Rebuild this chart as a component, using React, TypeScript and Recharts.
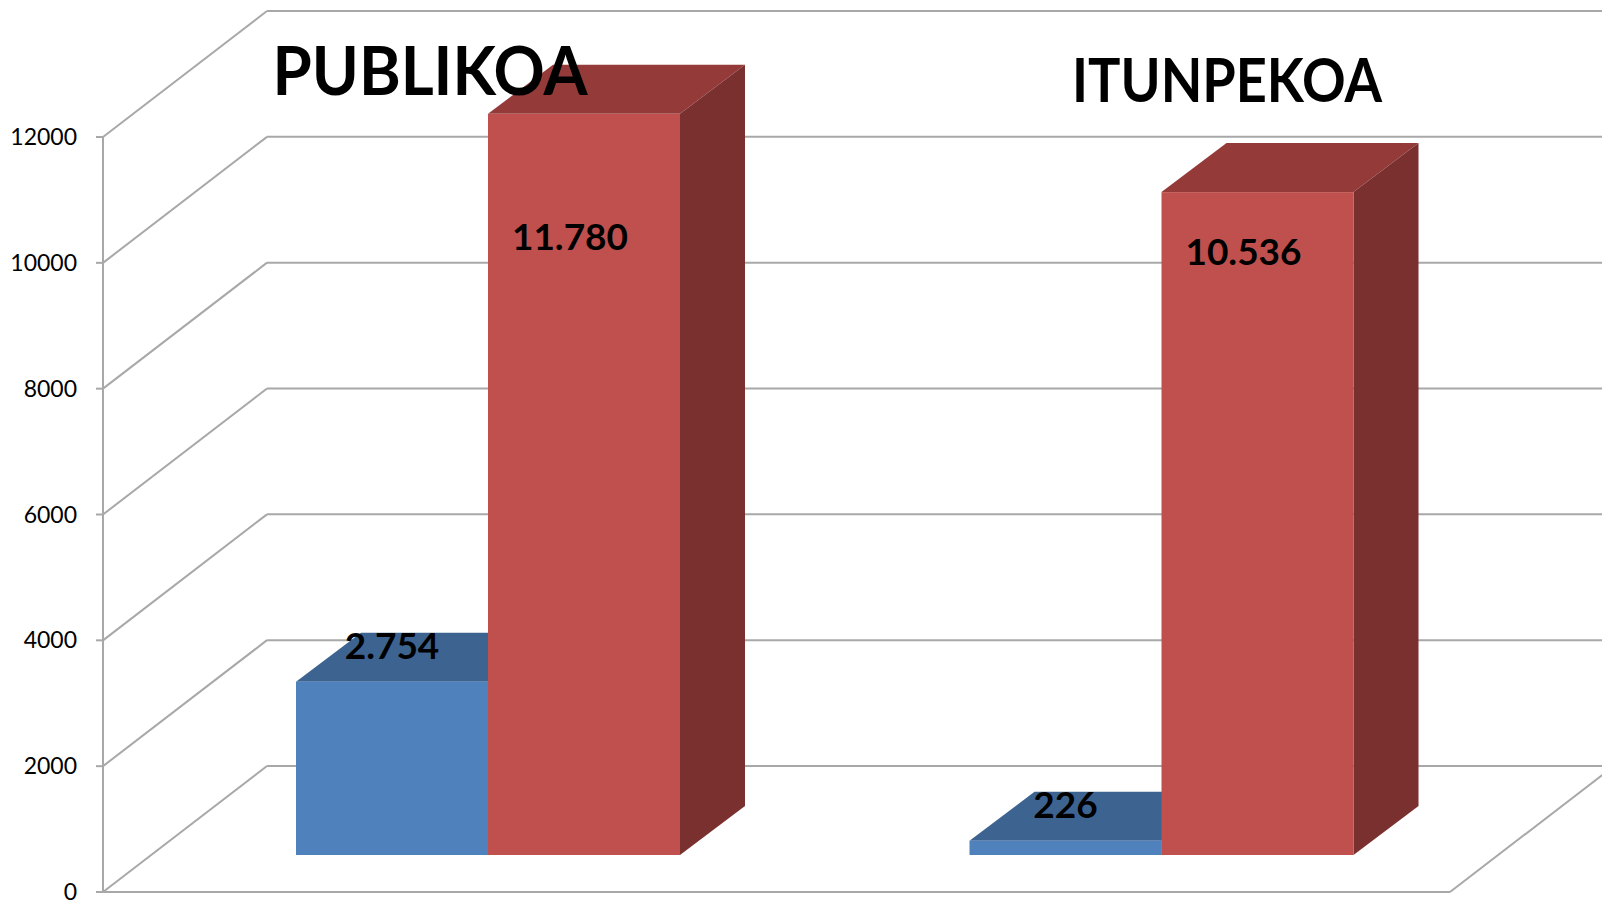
import React from 'react';
import { BarChart, Bar, XAxis, YAxis, CartesianGrid } from 'recharts';

// ---- data ----
const categories = ['PUBLIKOA', 'ITUNPEKOA'];
const blueValues = [2754, 226];
const redValues = [11780, 10536];
const yTicks = [0, 2000, 4000, 6000, 8000, 10000, 12000];

// ---- layout / style constants ----
const W = 1602;
const H = 903;
const MARGIN = { top: 137, right: 152, bottom: 11, left: 8 };
const PLOT_BOTTOM = H - MARGIN.bottom;
const DEPTH_DX = 164;
const DEPTH_DY = 126;
const BAR_OFF_DX = 48;
const BAR_OFF_DY = 37;
const BAR_DEPTH_DX = 65;
const BAR_DEPTH_DY = 49;
const GRID = '#a8a8a8';
const FONT = 'Lato, "Open Sans", sans-serif';
const BLUE = { front: '#4f81bd', top: '#3d6491', side: '#365d8a' };
const RED = { front: '#c0504d', top: '#943b3a', side: '#7b3030' };
const RED_LABEL_DROP = [136, 73];
const LABEL_SIZE = 37;
const TITLES = [
  { cx: 430, baseline: 95, size: 67, len: 315 },
  { cx: 1227, baseline: 102, size: 61, len: 310 },
];

const data = categories.map((c, i) => ({ name: c, blue: blueValues[i], red: redValues[i] }));

const fmt = (n: number) => String(n).replace(/\B(?=(\d{3})+(?!\d))/g, '.');

const Box3D = (props: any) => {
  const { x, y, width, height, colors } = props;
  if (width == null || height == null) return null;
  const fx = x + BAR_OFF_DX;
  const fy = y - BAR_OFF_DY;
  const fr = fx + width;
  const fb = fy + height;
  return (
    <g>
      <polygon
        points={`${fx},${fy} ${fx + BAR_DEPTH_DX},${fy - BAR_DEPTH_DY} ${fr + BAR_DEPTH_DX},${fy - BAR_DEPTH_DY} ${fr},${fy}`}
        fill={colors.top}
      />
      <polygon
        points={`${fr},${fy} ${fr + BAR_DEPTH_DX},${fy - BAR_DEPTH_DY} ${fr + BAR_DEPTH_DX},${fb - BAR_DEPTH_DY} ${fr},${fb}`}
        fill={colors.side}
      />
      <rect x={fx} y={fy} width={width} height={height} fill={colors.front} />
    </g>
  );
};

const gridLine = (p: any) => {
  const { x1, x2, y1 } = p;
  const bx = x1 + DEPTH_DX;
  const by = y1 - DEPTH_DY;
  const isBottom = Math.abs(y1 - PLOT_BOTTOM) < 1.5;
  return (
    <g key={`grid-${p.index}-${y1}`}>
      <line x1={x1} y1={y1} x2={bx} y2={by} stroke={GRID} strokeWidth={2} />
      <line x1={bx} y1={by} x2={W + 100} y2={by} stroke={GRID} strokeWidth={2} />
      {isBottom && (
        <>
          <line x1={x1} y1={y1} x2={x2} y2={y1} stroke={GRID} strokeWidth={2} />
          <line x1={x2} y1={y1} x2={x2 + DEPTH_DX} y2={y1 - DEPTH_DY} stroke={GRID} strokeWidth={2} />
        </>
      )}
    </g>
  );
};

const blueLabel = (p: any) => {
  const { x, y, width, value } = p;
  return (
    <text
      x={x + BAR_OFF_DX + width / 2}
      y={y - BAR_OFF_DY - 23}
      textAnchor="middle"
      fontFamily={FONT}
      fontWeight={700}
      fontSize={LABEL_SIZE}
      fill="#000"
    >
      {fmt(value)}
    </text>
  );
};

const redLabel = (p: any) => {
  const { x, y, width, value, index } = p;
  const drop = RED_LABEL_DROP[index ?? 0] ?? 100;
  return (
    <text
      x={x + BAR_OFF_DX + width / 2 - 14}
      y={y - BAR_OFF_DY + drop}
      textAnchor="middle"
      fontFamily={FONT}
      fontWeight={700}
      fontSize={LABEL_SIZE}
      fill="#000"
    >
      {fmt(value)}
    </text>
  );
};

export default function App() {
  return (
    <div style={{ position: 'absolute', left: 0, top: 0, width: W, height: H, background: '#fff' }}>
      <BarChart width={W} height={H} data={data} margin={MARGIN} barGap={0} barSize={192}>
        <CartesianGrid vertical={false} horizontal={gridLine} />
        <XAxis dataKey="name" hide />
        <YAxis
          domain={[0, 12000]}
          ticks={yTicks}
          interval={0}
          width={95}
          tickSize={7}
          tickMargin={19}
          axisLine={{ stroke: GRID, strokeWidth: 2 }}
          tickLine={{ stroke: GRID, strokeWidth: 2 }}
          tick={{ fill: '#000', fontSize: 23, fontFamily: FONT }}
        />
        <Bar
          dataKey="blue"
          isAnimationActive={false}
          fill={BLUE.front}
          shape={(p: any) => <Box3D {...p} colors={BLUE} />}
          label={blueLabel}
        />
        <Bar
          dataKey="red"
          isAnimationActive={false}
          fill={RED.front}
          shape={(p: any) => <Box3D {...p} colors={RED} />}
          label={redLabel}
        />
      </BarChart>
      <svg
        width={W}
        height={H}
        style={{ position: 'absolute', left: 0, top: 0, pointerEvents: 'none' }}
      >
        {categories.map((c, i) => (
          <text
            key={c}
            x={TITLES[i].cx}
            y={TITLES[i].baseline}
            textAnchor="middle"
            fontFamily={FONT}
            fontWeight={700}
            fontSize={TITLES[i].size}
            textLength={TITLES[i].len}
            lengthAdjust="spacingAndGlyphs"
            fill="#000"
          >
            {c}
          </text>
        ))}
      </svg>
    </div>
  );
}
